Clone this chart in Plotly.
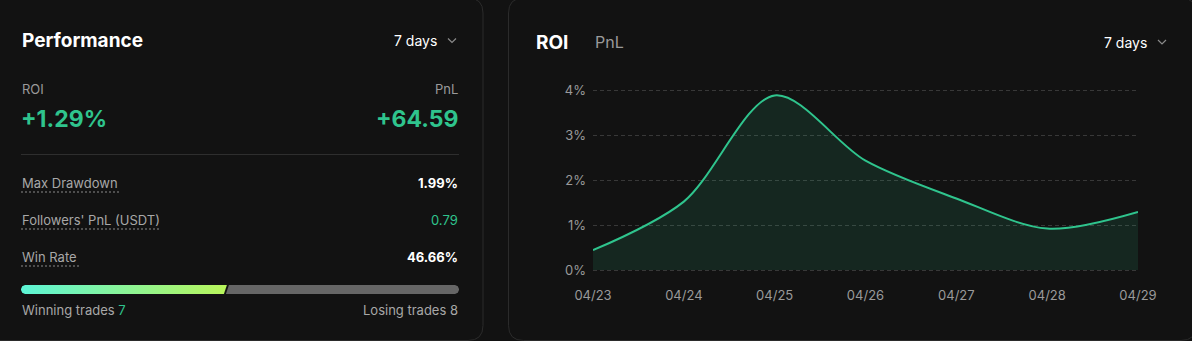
import plotly.graph_objects as go

# ---------------- data ----------------
dates = ["04/23", "04/24", "04/25", "04/26", "04/27", "04/28", "04/29"]
roi_pct = [0.44, 1.52, 3.88, 2.43, 1.59, 0.92, 1.29]
y_ticks = [0, 1, 2, 3, 4]
y_tick_text = ["0%", "1%", "2%", "3%", "4%"]

summary_roi = "+1.29%"
summary_pnl = "+64.59"
metric_labels = ["Max Drawdown", "Followers' PnL (USDT)", "Win Rate"]
metric_values = ["1.99%", "0.79", "46.66%"]
winning_trades = 7
losing_trades = 8
period = "7 days"

# ---------------- style ----------------
W, H = 1192, 341
BG = "#121212"
BORDER = "#2b2b2b"
GREEN = "#2fc48d"
GRAY = "#9a9a9a"
LABEL = "#a8a8a8"
WHITE = "#ffffff"
FONT = "Inter, Noto Sans, sans-serif"

fig = go.Figure()

# main ROI chart
fig.add_trace(go.Scatter(
    x=dates, y=roi_pct, mode="lines",
    line=dict(color=GREEN, width=2, shape="spline", smoothing=0.9),
    fill="tozeroy", fillcolor="rgba(47,196,141,0.12)",
    hoverinfo="skip", xaxis="x", yaxis="y", showlegend=False,
))

# pixel overlay helpers
def rounded_rect(x0, y0, x1, y1, r):
    return (f"M{x0+r},{y0} L{x1-r},{y0} Q{x1},{y0} {x1},{y0+r} "
            f"L{x1},{y1-r} Q{x1},{y1} {x1-r},{y1} L{x0+r},{y1} "
            f"Q{x0},{y1} {x0},{y1-r} L{x0},{y0+r} Q{x0},{y0} {x0+r},{y0} Z")

shapes = []
# cards
shapes.append(dict(type="path", xref="x2", yref="y2", path=rounded_rect(-20, -2, 483, 340.5, 15),
                   line=dict(color=BORDER, width=1), fillcolor="rgba(0,0,0,0)", layer="below"))
shapes.append(dict(type="path", xref="x2", yref="y2", path=rounded_rect(508.5, -2, 1196, 340.5, 15),
                   line=dict(color=BORDER, width=1), fillcolor="rgba(0,0,0,0)", layer="below"))
# divider
shapes.append(dict(type="line", xref="x2", yref="y2", x0=21, x1=459, y0=154.5, y1=154.5,
                   line=dict(color="#2e2e2e", width=1)))
# chevrons
for cx, cy in [(452, 40.5), (1162, 42)]:
    shapes.append(dict(type="path", xref="x2", yref="y2",
                       path=f"M{cx-4},{cy-2} L{cx},{cy+2} L{cx+4},{cy-2}",
                       line=dict(color="#8a8a8a", width=1.2)))

ann = []
def text(x, y, s, size, color, anchor="left", bold=False):
    ann.append(dict(xref="x2", yref="y2", x=x, y=y, text=(f"<b>{s}</b>" if bold else s),
                    showarrow=False, xanchor=anchor, yanchor="middle",
                    font=dict(family=FONT, size=size, color=color)))

# left card
text(20, 40, "Performance", 19, WHITE, bold=True)
text(439, 40, period, 14, WHITE, anchor="right")
text(20, 89, "ROI", 13, GRAY)
text(460, 89, "PnL", 13, GRAY, anchor="right")
text(19, 119, summary_roi, 23, GREEN, bold=True)
text(461, 119, summary_pnl, 23, GREEN, anchor="right", bold=True)

row_y = [183, 220, 257]
underline_end = [119, 160, 79]
value_colors = [WHITE, GREEN, WHITE]
for lab, val, yy, ue, vc in zip(metric_labels, metric_values, row_y, underline_end, value_colors):
    text(20, yy, lab, 13, LABEL)
    text(460, yy, val, 13, vc, anchor="right", bold=(vc == WHITE))
    shapes.append(dict(type="line", xref="x2", yref="y2", x0=21, x1=ue, y0=yy + 9, y1=yy + 9,
                       line=dict(color="#8a8a8a", width=1, dash="2px,2px")))

# win-rate bar
bar_x0, bar_x1, bar_y0, bar_y1 = 21, 459, 285, 294
split = bar_x0 + (bar_x1 - bar_x0) * winning_trades / (winning_trades + losing_trades)
r = 4
gx = [bar_x0 + r, split + 1.5, split - 1.5, bar_x0 + r, bar_x0 + 1.2, bar_x0, bar_x0, bar_x0 + 1.2, bar_x0 + r]
gy = [bar_y0, bar_y0, bar_y1, bar_y1, bar_y1 - 1.2, bar_y1 - r, bar_y0 + r, bar_y0 + 1.2, bar_y0]
fig.add_trace(go.Scatter(
    x=gx, y=gy, mode="none", fill="toself",
    fillgradient=dict(type="horizontal", colorscale=[[0, "#5cf5d6"], [1, "#b9f55a"]]),
    hoverinfo="skip", xaxis="x2", yaxis="y2", showlegend=False,
))
sx = [split + 3.5, bar_x1 - r, bar_x1 - 1.2, bar_x1, bar_x1, bar_x1 - 1.2, bar_x1 - r, split + 0.5]
sy = [bar_y0, bar_y0, bar_y0 + 1.2, bar_y0 + r, bar_y1 - r, bar_y1 - 1.2, bar_y1, bar_y1]
fig.add_trace(go.Scatter(
    x=sx, y=sy, mode="none", fill="toself", fillcolor="#666666",
    hoverinfo="skip", xaxis="x2", yaxis="y2", showlegend=False,
))

text(20, 310, f"Winning trades <span style='color:{GREEN}'>{winning_trades}</span>", 13, LABEL)
text(460, 310, f"Losing trades {losing_trades}", 13, LABEL, anchor="right")

# right card headers
text(534, 42, "ROI", 19, WHITE, bold=True)
text(593, 42, "PnL", 16, GRAY)
text(1149, 42, period, 14, WHITE, anchor="right")

# axes geometry (pixels -> paper)
px0, px1 = 593, 1138
py_top, py_bot = 90, 270
ypad = 0.05                         # pad so the 0% and 4% gridlines are drawn
pad_px = ypad * (py_bot - py_top) / 4

fig.update_layout(
    width=W, height=H, margin=dict(l=0, r=0, t=0, b=0, pad=0, autoexpand=False),
    paper_bgcolor=BG, plot_bgcolor="rgba(0,0,0,0)",
    showlegend=False, shapes=shapes, annotations=ann,
    xaxis=dict(domain=[px0 / W, px1 / W], type="category", range=[0, len(dates) - 1],
               showgrid=False, zeroline=False, showline=False, ticks="", automargin=False,
               tickfont=dict(family=FONT, size=13, color=GRAY),
               ticklabelstandoff=int(round(16 - pad_px)),
               fixedrange=True, anchor="y"),
    yaxis=dict(domain=[1 - (py_bot + pad_px) / H, 1 - (py_top - pad_px) / H],
               range=[-ypad, 4 + ypad],
               tickvals=y_ticks, ticktext=y_tick_text, automargin=False,
               showgrid=True, gridcolor="#383838", griddash="4px,3px", gridwidth=1,
               zeroline=False, showline=False, ticks="",
               tickfont=dict(family=FONT, size=13, color=GRAY), ticklabelstandoff=6,
               fixedrange=True, anchor="x", layer="below traces"),
    xaxis2=dict(domain=[0, 1], range=[0, W], visible=False, fixedrange=True, anchor="y2",
                automargin=False),
    yaxis2=dict(domain=[0, 1], range=[H, 0], visible=False, fixedrange=True, anchor="x2",
                automargin=False),
)

fig.write_html("out.html", config={"displayModeBar": False})
